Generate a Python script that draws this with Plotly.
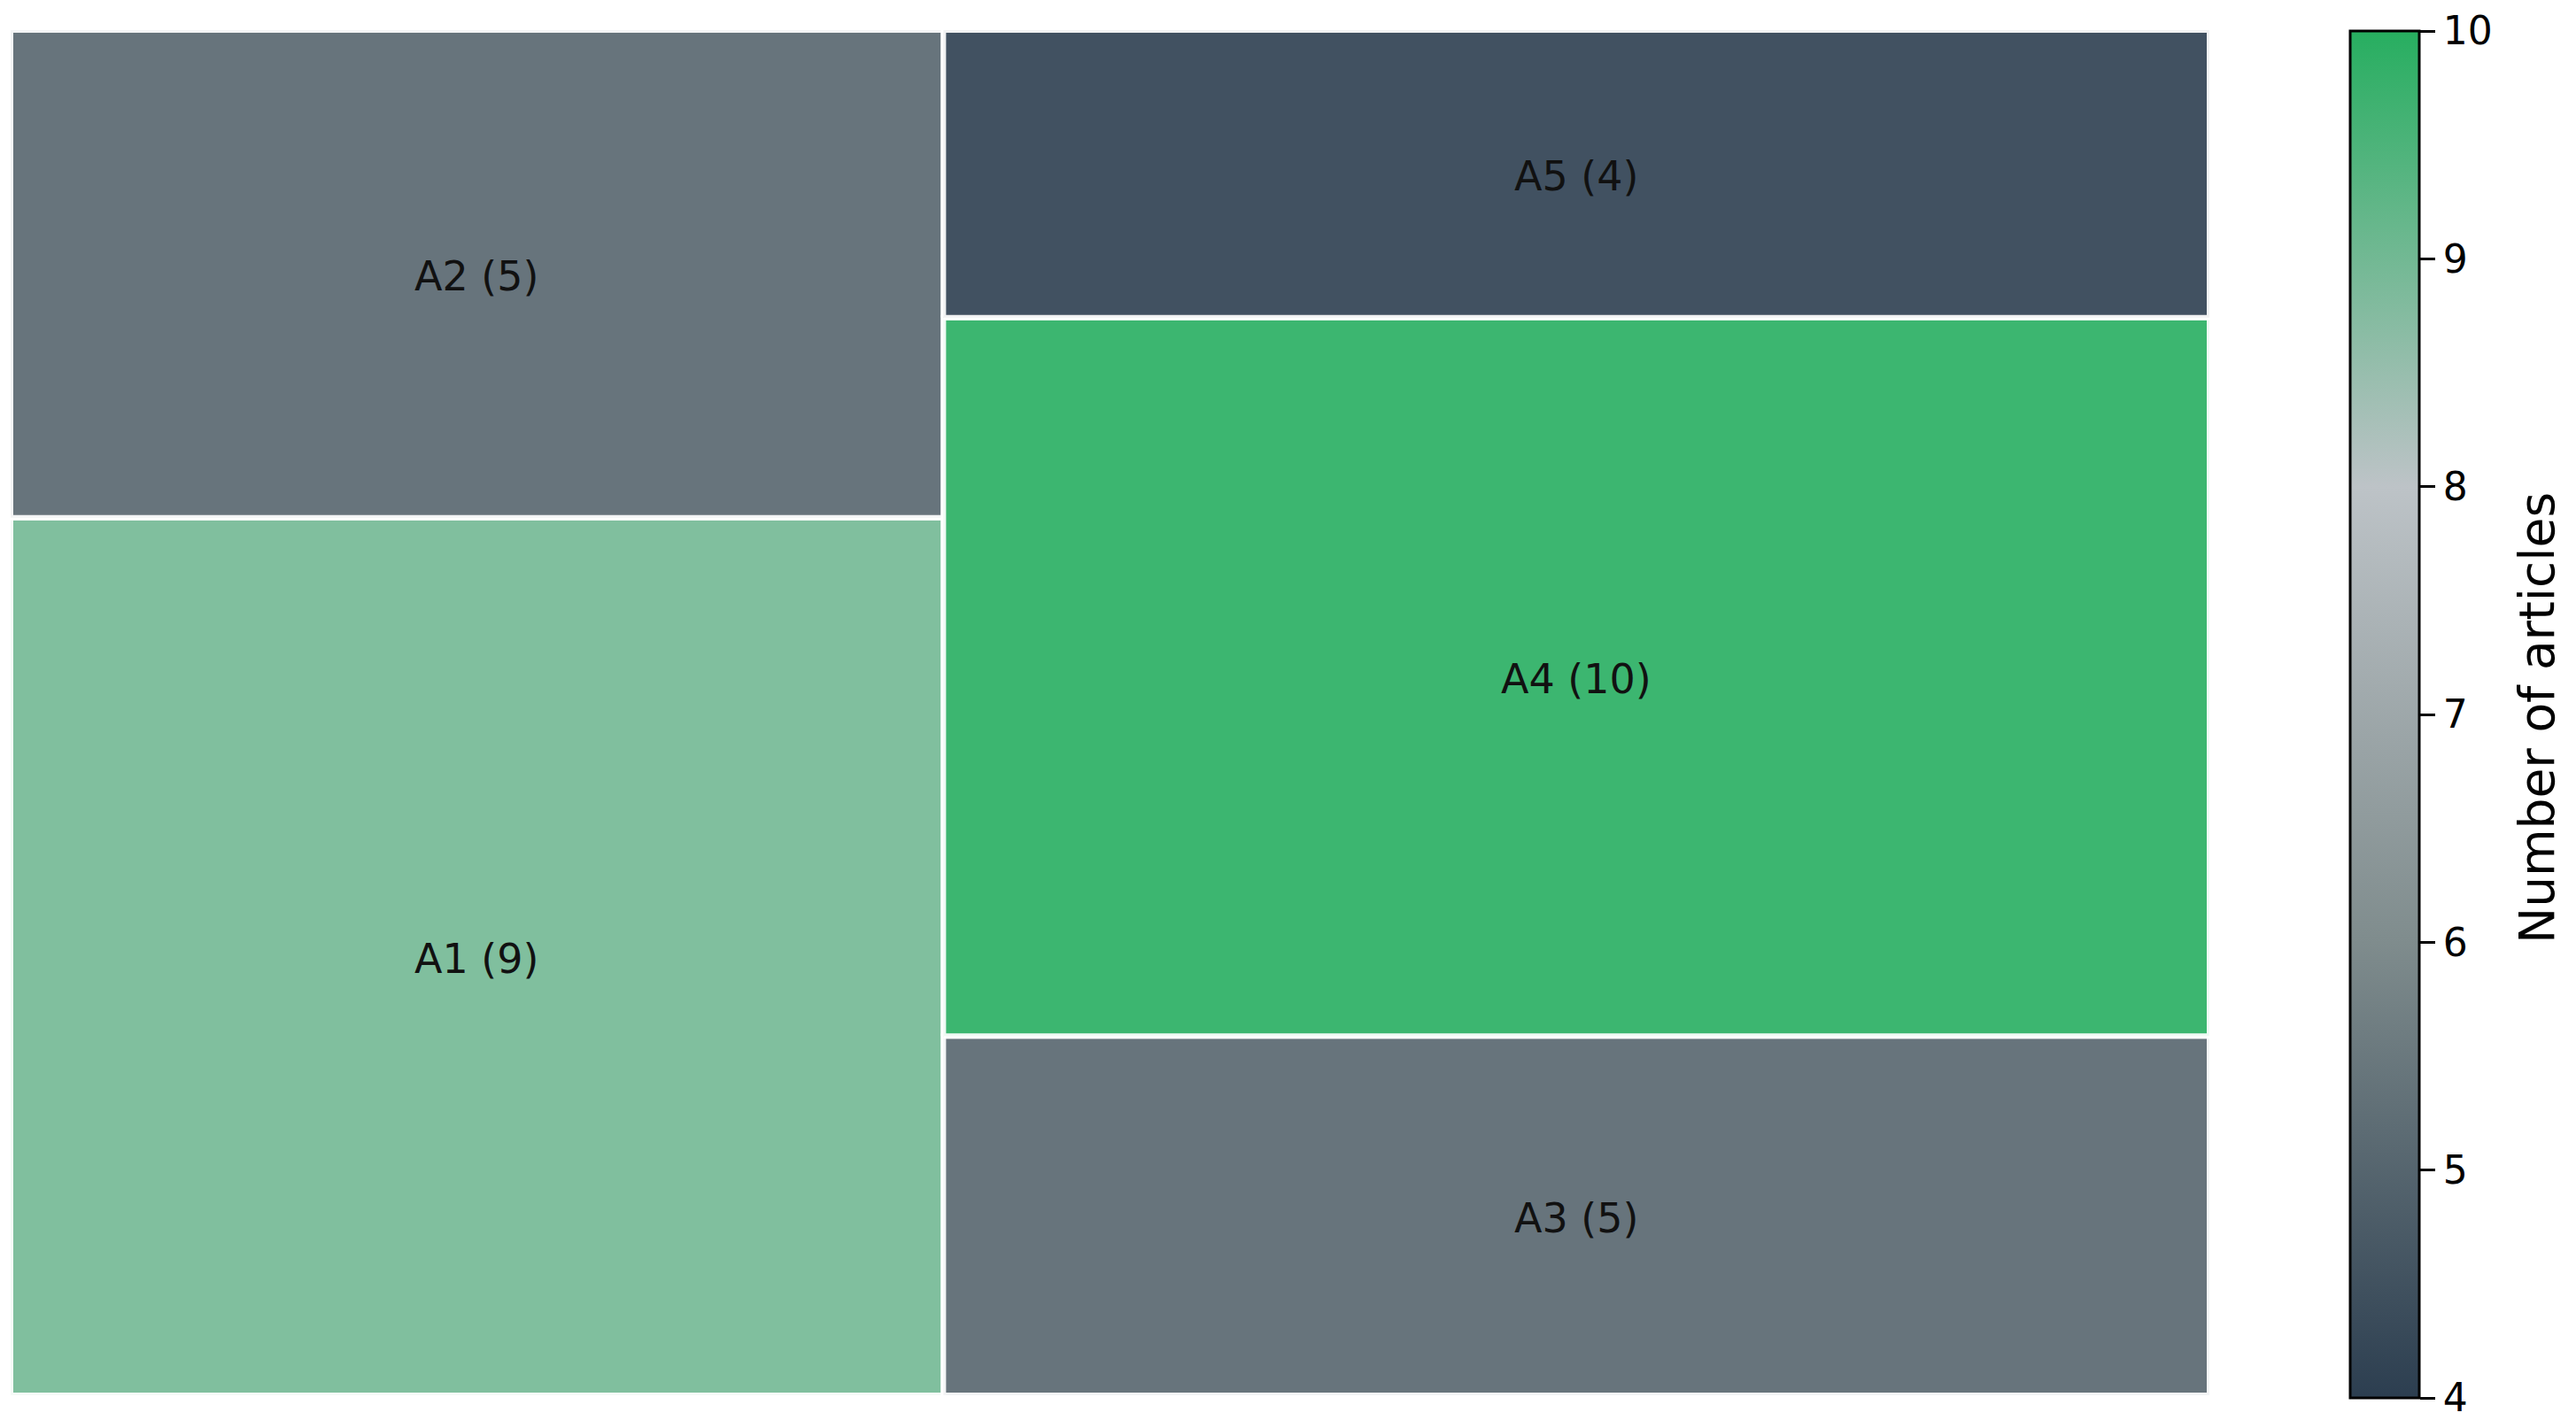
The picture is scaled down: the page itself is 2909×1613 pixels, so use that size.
import plotly.graph_objs as go

# data
labels = ['A1', 'A2', 'A3', 'A4', 'A5']
counts = [9, 5, 5, 10, 4]
cbar_ticks = [4, 5, 6, 7, 8, 9, 10]

# the html body has an 8px margin, so the figure is a bit smaller than the window
W, H = 2893, 1597
cmin, cmax = 4, 10
stops = ['#2c3e50', '#7f8c8d', '#bdc3c7', '#27ae60']
colorscale = [[i / (len(stops) - 1), c] for i, c in enumerate(stops)]


#%% squarify layout (same algorithm as the squarify package)
def layoutrow(sizes, x, y, dx, dy):
    width = sum(sizes) / dy
    rects = []
    for s in sizes:
        rects.append((x, y, width, s / width))
        y += s / width
    return rects


def layoutcol(sizes, x, y, dx, dy):
    height = sum(sizes) / dx
    rects = []
    for s in sizes:
        rects.append((x, y, s / height, height))
        x += s / height
    return rects


def layout(sizes, x, y, dx, dy):
    return layoutrow(sizes, x, y, dx, dy) if dx >= dy else layoutcol(sizes, x, y, dx, dy)


def leftover(sizes, x, y, dx, dy):
    if dx >= dy:
        w = sum(sizes) / dy
        return x + w, y, dx - w, dy
    h = sum(sizes) / dx
    return x, y + h, dx, dy - h


def worst(sizes, x, y, dx, dy):
    return max(max(r[2] / r[3], r[3] / r[2]) for r in layout(sizes, x, y, dx, dy))


def squarify(sizes, x, y, dx, dy):
    if len(sizes) == 0:
        return []
    if len(sizes) == 1:
        return layout(sizes, x, y, dx, dy)
    i = 1
    while i < len(sizes) and worst(sizes[:i], x, y, dx, dy) >= worst(sizes[:i + 1], x, y, dx, dy):
        i += 1
    cur, rest = sizes[:i], sizes[i:]
    lx, ly, ldx, ldy = leftover(cur, x, y, dx, dy)
    return layout(cur, x, y, dx, dy) + squarify(rest, lx, ly, ldx, ldy)


tot = float(sum(counts))
norm = [c * 100 * 100 / tot for c in counts]
rects = squarify(norm, 0, 0, 100, 100)


def hex2rgb(h):
    h = h.lstrip('#')
    return [int(h[k:k + 2], 16) for k in (0, 2, 4)]


def cmap(v):
    t = (v - cmin) / (cmax - cmin)
    n = len(stops) - 1
    k = min(int(t * n), n - 1)
    f = t * n - k
    a, b = hex2rgb(stops[k]), hex2rgb(stops[k + 1])
    rgb = [round(a[j] + (b[j] - a[j]) * f) for j in range(3)]
    return 'rgba(%d,%d,%d,0.9)' % tuple(rgb)


#%%
traces = []
for (x, y, dx, dy), lab, c in zip(rects, labels, counts):
    traces.append(go.Scatter(
        x=[x, x + dx, x + dx, x, x],
        y=[y, y, y + dy, y + dy, y],
        mode='lines', fill='toself',
        fillcolor=cmap(c),
        line=dict(color='rgba(255,255,255,0.92)', width=6),
        hoverinfo='skip', showlegend=False))

cx = [r[0] + r[2] / 2 for r in rects]
cy = [r[1] + r[3] / 2 for r in rects]

traces.append(go.Scatter(
    x=cx, y=cy, mode='markers',
    marker=dict(size=1, opacity=0, color=counts, cmin=cmin, cmax=cmax,
                colorscale=colorscale, showscale=True,
                colorbar=dict(
                    thickness=78, thicknessmode='pixels',
                    len=1544, lenmode='pixels',
                    x=2646 / W, xanchor='left', xpad=0,
                    y=1 - 27 / H, yanchor='top', ypad=0,
                    outlinecolor='black', outlinewidth=3,
                    tickmode='array', tickvals=cbar_ticks,
                    ticklabeloverflow='allow',
                    ticks='outside', ticklen=17, tickwidth=3, tickcolor='black',
                    tickfont=dict(family='DejaVu Sans', size=44, color='black'))),
    hoverinfo='skip', showlegend=False))

annots = [dict(x=x0, y=y0, text='%s (%d)' % (l, c), showarrow=False,
               xref='x', yref='y', xanchor='center', yanchor='middle', yshift=-3,
               font=dict(family='DejaVu Sans', size=46, color='#111111'))
          for x0, y0, l, c in zip(cx, cy, labels, counts)]
annots.append(dict(text='Number of articles', textangle=-90, showarrow=False,
                   xref='paper', yref='paper', x=2857 / W, y=1 - 803 / H,
                   xanchor='center', yanchor='middle',
                   font=dict(family='DejaVu Sans', size=55, color='black')))

layout_ = dict(
    width=W, height=H,
    margin=dict(l=0, r=0, t=0, b=0),
    paper_bgcolor='white', plot_bgcolor='white',
    xaxis=dict(range=[0, 100], domain=[4 / W, 2487 / W], visible=False, fixedrange=True),
    yaxis=dict(range=[0, 100], domain=[1 - 1568 / H, 1 - 26 / H], visible=False, fixedrange=True),
    annotations=annots,
    showlegend=False)

fig = go.Figure(data=traces, layout=layout_)
fig.write_html('out.html')
